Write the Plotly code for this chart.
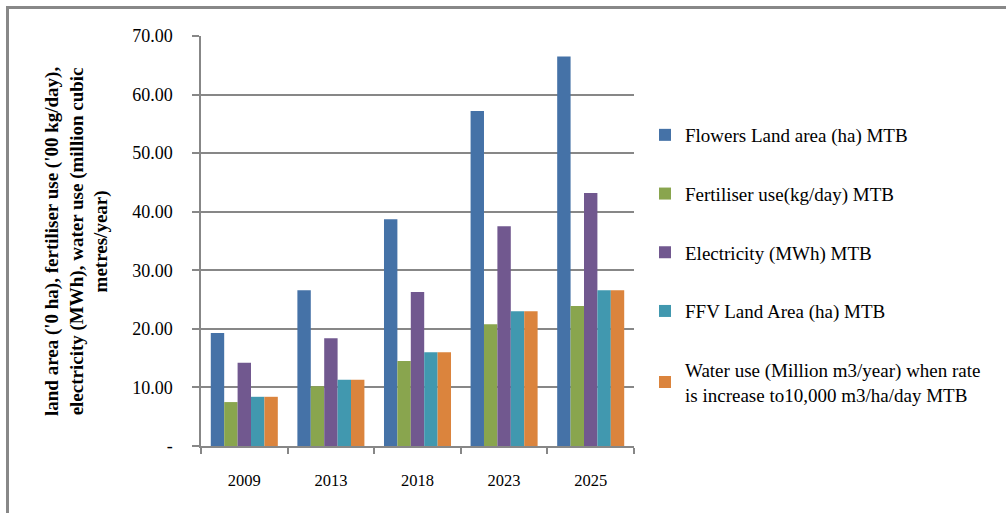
import plotly.graph_objects as go

years = ["2009", "2013", "2018", "2023", "2025"]

flowers_land = [19.3, 26.6, 38.7, 57.2, 66.5]
fertiliser = [7.5, 10.2, 14.5, 20.8, 23.9]
electricity = [14.2, 18.4, 26.3, 37.5, 43.2]
ffv_land = [8.4, 11.3, 16.0, 23.0, 26.6]
water_use = [8.4, 11.3, 16.0, 23.0, 26.6]

series_names = [
    "Flowers Land area (ha) MTB",
    "Fertiliser use(kg/day) MTB",
    "Electricity (MWh) MTB",
    "FFV Land Area (ha) MTB",
    "Water use (Million m3/year) when rate<br>is increase to10,000 m3/ha/day MTB",
]
series_values = [flowers_land, fertiliser, electricity, ffv_land, water_use]
series_colors = ["#4572A7", "#89A54E", "#71588F", "#4198AF", "#DB843D"]

y_tick_values = [0, 10, 20, 30, 40, 50, 60, 70]
y_tick_labels = ["-", "10.00", "20.00", "30.00", "40.00", "50.00", "60.00", "70.00"]

y_title = ("land area ('0 ha), fertiliser use ('00 kg/day),<br>"
           "electricity (MWh), water use (million cubic<br>metres/year)")

FONT = "Liberation Serif, Times New Roman, serif"
GRID = "#878787"

fig = go.Figure()
for i, (name, vals, col) in enumerate(zip(series_names, series_values, series_colors)):
    fig.add_trace(go.Bar(
        x=years, y=vals, name=name, marker=dict(color=col, line=dict(width=0)),
        legendgroup=f"g{i}",
    ))

# plot area geometry in pixels
W, H = 1006, 513
L, R, T, B = 201, 634, 36, 446
pw, ph = R - L, B - T

def px_x(p):
    return (p - L) / pw

def px_y(p):
    return (B - p) / ph

fig.update_layout(
    width=W, height=H,
    margin=dict(l=L, r=W - R, t=T, b=H - B, pad=0),
    paper_bgcolor="white", plot_bgcolor="white",
    barmode="group", bargap=0.226, bargroupgap=0,
    font=dict(family=FONT, size=14, color="black"),
    showlegend=True,
    legend=dict(
        x=px_x(645), y=px_y(116), xanchor="left", yanchor="top",
        font=dict(family=FONT, size=19, color="black"),
        tracegroupgap=31, itemwidth=30, bgcolor="rgba(0,0,0,0)",
    ),
    xaxis=dict(
        type="category", showgrid=False,
        showline=True, linecolor=GRID, linewidth=2,
        ticks="outside", tickson="boundaries", ticklen=6, tickcolor=GRID, tickwidth=1.5,
        ticklabelstandoff=18,
        tickfont=dict(family=FONT, size=16.5, color="black"),
    ),
    yaxis=dict(
        range=[0, 70], tickvals=y_tick_values, ticktext=y_tick_labels,
        showgrid=True, gridcolor=GRID, gridwidth=1.5,
        showline=True, linecolor=GRID, linewidth=1.5,
        ticks="outside", ticklen=7, tickcolor=GRID, tickwidth=1.5,
        ticklabelstandoff=16, zeroline=False,
        tickfont=dict(family=FONT, size=18, color="black"),
    ),
    annotations=[dict(
        text=y_title, xref="paper", yref="paper",
        x=px_x(76), y=px_y(242), xanchor="center", yanchor="middle",
        textangle=-90, showarrow=False, align="center",
        font=dict(family=FONT, size=19, color="black", weight="bold"),
    )],
    shapes=[
        dict(type="line", xref="paper", yref="paper",
             x0=px_x(6), x1=px_x(1006), y0=px_y(7.5), y1=px_y(7.5),
             line=dict(color="#888888", width=3)),
        dict(type="line", xref="paper", yref="paper",
             x0=px_x(7.5), x1=px_x(7.5), y0=px_y(6), y1=px_y(513),
             line=dict(color="#888888", width=3)),
    ],
)

fig.write_html("out.html")
